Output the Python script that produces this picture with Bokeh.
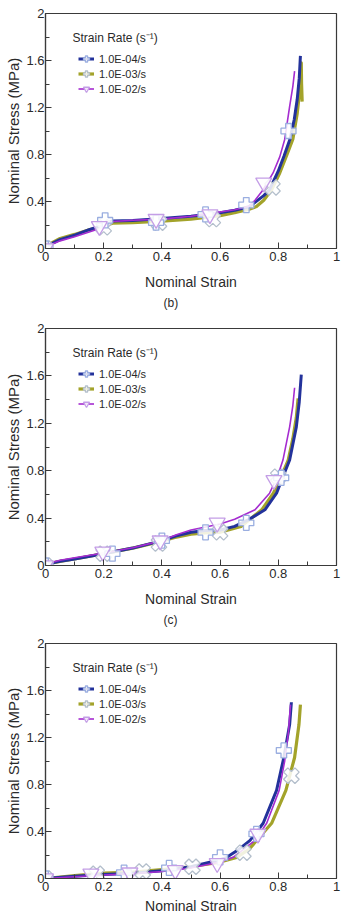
from bokeh.plotting import figure
from bokeh.models import Range1d, FixedTicker, Label, Legend, LegendItem, Title
from bokeh.layouts import column
from bokeh.embed import file_html
from bokeh.resources import INLINE
import math

# ---- shared labels -------------------------------------------------------
rate_labels = ["1.0E-04/s", "1.0E-03/s", "1.0E-02/s"]
x_ticks = [0, 0.2, 0.4, 0.6, 0.8, 1]
x_minor = [0.1, 0.3, 0.5, 0.7, 0.9]
y_ticks = [0, 0.4, 0.8, 1.2, 1.6, 2]
y_minor = [0.2, 0.6, 1.0, 1.4, 1.8]
x_tick_text = ["0", "0.2", "0.4", "0.6", "0.8", "1"]
y_tick_text = ["0", "0.4", "0.8", "1.2", "1.6", "2"]

# ---- panel (b) -----------------------------------------------------------
b_strain_e4 = [0, 0.02, 0.05, 0.1, 0.15, 0.2, 0.23, 0.3, 0.4, 0.5, 0.55, 0.6, 0.65, 0.7,
               0.75, 0.77, 0.8, 0.82, 0.84, 0.855, 0.865, 0.872, 0.876]
b_stress_e4 = [0, 0.04, 0.075, 0.113, 0.16, 0.2, 0.235, 0.238, 0.255, 0.275, 0.29, 0.305,
               0.325, 0.355, 0.45, 0.5, 0.66, 0.79, 0.93, 1.1, 1.27, 1.45, 1.64]
b_strain_e3 = [0, 0.02, 0.05, 0.1, 0.15, 0.2, 0.23, 0.3, 0.4, 0.5, 0.6, 0.65, 0.7, 0.725,
               0.75, 0.777, 0.805, 0.83, 0.85, 0.865, 0.874, 0.879, 0.88, 0.882]
b_stress_e3 = [0, 0.045, 0.085, 0.12, 0.16, 0.19, 0.215, 0.22, 0.232, 0.25, 0.28, 0.305,
               0.335, 0.357, 0.41, 0.5, 0.643, 0.8, 0.93, 1.15, 1.35, 1.58, 1.4, 1.25]
b_strain_e2 = [0, 0.02, 0.05, 0.1, 0.15, 0.2, 0.23, 0.3, 0.4, 0.5, 0.6, 0.65, 0.697, 0.72,
               0.748, 0.782, 0.805, 0.822, 0.839, 0.85, 0.856]
b_stress_e2 = [0, 0.035, 0.065, 0.1, 0.14, 0.18, 0.23, 0.24, 0.25, 0.275, 0.31, 0.33, 0.357,
               0.41, 0.5, 0.643, 0.78, 0.928, 1.21, 1.38, 1.51]
b_mark_x_e4 = [0, 0.205, 0.38, 0.55, 0.69, 0.835]
b_mark_y_e4 = [0, 0.24, 0.22, 0.29, 0.37, 1.0]
b_mark_x_e3 = [0, 0.2, 0.39, 0.575, 0.78]
b_mark_y_e3 = [0, 0.18, 0.22, 0.25, 0.52]
b_mark_x_e2 = [0, 0.185, 0.38, 0.565, 0.75]
b_mark_y_e2 = [0, 0.19, 0.25, 0.29, 0.56]

# ---- panel (c) -----------------------------------------------------------
c_strain_e4 = [0, 0.02, 0.05, 0.1, 0.2, 0.3, 0.4, 0.45, 0.5, 0.55, 0.6, 0.65, 0.7, 0.754,
               0.794, 0.816, 0.839, 0.862, 0.872, 0.879]
c_stress_e4 = [0, 0.02, 0.035, 0.055, 0.1, 0.147, 0.21, 0.25, 0.28, 0.295, 0.3, 0.33, 0.39,
               0.47, 0.61, 0.75, 0.89, 1.17, 1.38, 1.61]
c_strain_e3 = [0, 0.02, 0.05, 0.1, 0.2, 0.3, 0.4, 0.45, 0.5, 0.55, 0.6, 0.672, 0.743, 0.783,
               0.81, 0.834, 0.85, 0.862, 0.868]
c_stress_e3 = [0, 0.02, 0.035, 0.055, 0.1, 0.147, 0.205, 0.24, 0.265, 0.275, 0.28, 0.33,
               0.47, 0.61, 0.75, 0.89, 1.07, 1.25, 1.41]
c_strain_e2 = [0, 0.02, 0.05, 0.1, 0.2, 0.3, 0.4, 0.45, 0.5, 0.55, 0.6, 0.65, 0.72, 0.77,
               0.797, 0.816, 0.839, 0.85, 0.856]
c_stress_e2 = [0, 0.025, 0.045, 0.065, 0.105, 0.15, 0.21, 0.26, 0.3, 0.325, 0.35, 0.39,
               0.47, 0.61, 0.75, 0.89, 1.17, 1.35, 1.5]
c_mark_x_e4 = [0, 0.23, 0.4, 0.55, 0.69, 0.81]
c_mark_y_e4 = [0, 0.1, 0.21, 0.28, 0.36, 0.74]
c_mark_x_e3 = [0, 0.2, 0.39, 0.6, 0.8]
c_mark_y_e3 = [0, 0.1, 0.185, 0.28, 0.75]
c_mark_x_e2 = [0, 0.197, 0.394, 0.59, 0.785]
c_mark_y_e2 = [0, 0.116, 0.21, 0.36, 0.72]

# ---- panel (d) -----------------------------------------------------------
d_strain_e4 = [0, 0.1, 0.2, 0.3, 0.4, 0.5, 0.6, 0.623, 0.66, 0.703, 0.748, 0.794, 0.819,
               0.839, 0.845]
d_stress_e4 = [0, 0.02, 0.035, 0.045, 0.065, 0.1, 0.16, 0.18, 0.24, 0.325, 0.47, 0.75,
               1.03, 1.31, 1.5]
d_strain_e3 = [0, 0.1, 0.2, 0.3, 0.4, 0.5, 0.6, 0.657, 0.7, 0.726, 0.777, 0.826, 0.856,
               0.871, 0.876]
d_stress_e3 = [0, 0.025, 0.045, 0.055, 0.075, 0.1, 0.14, 0.18, 0.25, 0.325, 0.47, 0.75,
               1.03, 1.31, 1.48]
d_strain_e2 = [0, 0.1, 0.2, 0.3, 0.4, 0.5, 0.6, 0.645, 0.72, 0.76, 0.803, 0.822, 0.835,
               0.842]
d_stress_e2 = [0, 0.015, 0.03, 0.04, 0.06, 0.09, 0.14, 0.18, 0.325, 0.47, 0.75, 1.0, 1.25,
               1.48]
d_mark_x_e4 = [0, 0.27, 0.425, 0.6, 0.725, 0.819]
d_mark_y_e4 = [0, 0.05, 0.09, 0.18, 0.38, 1.09]
d_mark_x_e3 = [0, 0.176, 0.334, 0.505, 0.68, 0.845]
d_mark_y_e3 = [0, 0.04, 0.06, 0.1, 0.22, 0.875]
d_mark_x_e2 = [0, 0.156, 0.29, 0.446, 0.59, 0.73]
d_mark_y_e2 = [0, 0.04, 0.05, 0.07, 0.13, 0.38]

# ---- styles --------------------------------------------------------------
FONT = "Liberation Sans"
TEXT = "#2a2a2a"
AXIS = "#3a3a3a"
LINE_COLORS = ["#23329b", "#a3a32a", "#a52cd0"]
LINE_WIDTHS = [3.0, 3.2, 1.6]
MARK_COLORS = ["#9aaee0", "#b4bfcc", "#c49ee6"]


def make_panel(height, top, frame_h, series, marks, caption, xlabel_standoff):
    bottom = height - top - frame_h
    p = figure(width=341, height=height, x_range=Range1d(0, 1), y_range=Range1d(0, 2),
               output_backend="svg", toolbar_location=None,
               min_border_left=45, min_border_right=5,
               min_border_top=top, min_border_bottom=bottom)
    p.xgrid.visible = False
    p.ygrid.visible = False
    p.background_fill_color = "white"
    p.border_fill_color = "white"
    p.outline_line_color = AXIS
    p.outline_line_width = 1.2
    p.outline_line_alpha = 1.0

    for ax, ticks, minor, texts in ((p.xaxis, x_ticks, x_minor, x_tick_text),
                                    (p.yaxis, y_ticks, y_minor, y_tick_text)):
        ax.ticker = FixedTicker(ticks=ticks, minor_ticks=minor)
        ax.major_label_overrides = dict(zip(ticks, texts))
        ax.axis_line_color = AXIS
        ax.axis_line_width = 1.2
        ax.major_tick_line_color = AXIS
        ax.minor_tick_line_color = AXIS
        ax.major_tick_in = 6
        ax.major_tick_out = 0
        ax.minor_tick_in = 4
        ax.minor_tick_out = 0
        ax.major_label_text_font = FONT
        ax.major_label_text_font_size = "13px"
        ax.major_label_text_color = TEXT
        ax.axis_label_text_font = FONT
        ax.axis_label_text_font_style = "normal"
        ax.axis_label_text_color = TEXT
    p.xaxis.major_label_standoff = 3
    p.yaxis.major_label_standoff = 1
    p.xaxis.axis_label = "Nominal Strain"
    p.xaxis.axis_label_text_font_size = "14px"
    p.xaxis.axis_label_standoff = xlabel_standoff
    p.yaxis.axis_label = "Nominal Stress (MPa)"
    p.yaxis.axis_label_text_font_size = "15px"
    p.yaxis.axis_label_standoff = 1

    # curves: olive first, then blue, purple on top
    line_r = [None, None, None]
    for i in (1, 0, 2):
        xs, ys = series[i]
        line_r[i] = p.line(xs, ys, line_color=LINE_COLORS[i], line_width=LINE_WIDTHS[i],
                           line_join="round")

    mark_r = [None, None, None]
    # X markers (rotated plus), plus markers, inverted triangles
    xs, ys = marks[1]
    mark_r[1] = p.scatter(xs, ys, marker="plus", angle=math.pi / 4, size=16,
                          fill_color="white", fill_alpha=0.85,
                          line_color=MARK_COLORS[1], line_width=1.3)
    xs, ys = marks[0]
    mark_r[0] = p.scatter(xs, ys, marker="plus", size=15,
                          fill_color="white", fill_alpha=0.85,
                          line_color=MARK_COLORS[0], line_width=1.3)
    xs, ys = marks[2]
    mark_r[2] = p.scatter(xs, ys, marker="inverted_triangle", size=16,
                          fill_color="white", fill_alpha=0.85,
                          line_color=MARK_COLORS[2], line_width=1.3)

    legend = Legend(
        items=[LegendItem(label=rate_labels[i], renderers=[line_r[i], mark_r[i]])
               for i in range(3)],
        location=(33, frame_h - 83),
        padding=0, margin=0, spacing=0,
        label_height=15, glyph_height=15, glyph_width=16, label_standoff=5,
        label_text_font=FONT, label_text_font_size="11px", label_text_color=TEXT,
        background_fill_alpha=0, border_line_alpha=0,
    )
    p.add_layout(legend)

    p.add_layout(Label(x=27, y=frame_h - 24, x_units="screen", y_units="screen",
                       text="Strain Rate (s\u207b\u00b9)", text_font=FONT,
                       text_font_size="12px", text_color=TEXT,
                       text_align="left", text_baseline="middle"))

    if caption:
        p.add_layout(Title(text=caption, align="left", offset=118, standoff=2,
                           text_font=FONT, text_font_size="12px",
                           text_font_style="normal", text_color=TEXT), "below")
    return p


p_b = make_panel(315, 13, 235,
                 [(b_strain_e4, b_stress_e4), (b_strain_e3, b_stress_e3),
                  (b_strain_e2, b_stress_e2)],
                 [(b_mark_x_e4, b_mark_y_e4), (b_mark_x_e3, b_mark_y_e3),
                  (b_mark_x_e2, b_mark_y_e2)],
                 "(b)", 10)
p_c = make_panel(320, 13, 237,
                 [(c_strain_e4, c_stress_e4), (c_strain_e3, c_stress_e3),
                  (c_strain_e2, c_stress_e2)],
                 [(c_mark_x_e4, c_mark_y_e4), (c_mark_x_e3, c_mark_y_e3),
                  (c_mark_x_e2, c_mark_y_e2)],
                 "(c)", 10)
p_d = make_panel(282, 8, 235,
                 [(d_strain_e4, d_stress_e4), (d_strain_e3, d_stress_e3),
                  (d_strain_e2, d_stress_e2)],
                 [(d_mark_x_e4, d_mark_y_e4), (d_mark_x_e3, d_mark_y_e3),
                  (d_mark_x_e2, d_mark_y_e2)],
                 None, 4)

layout = column(p_b, p_c, p_d, spacing=0)
open("out.html", "w").write(file_html(layout, INLINE))
